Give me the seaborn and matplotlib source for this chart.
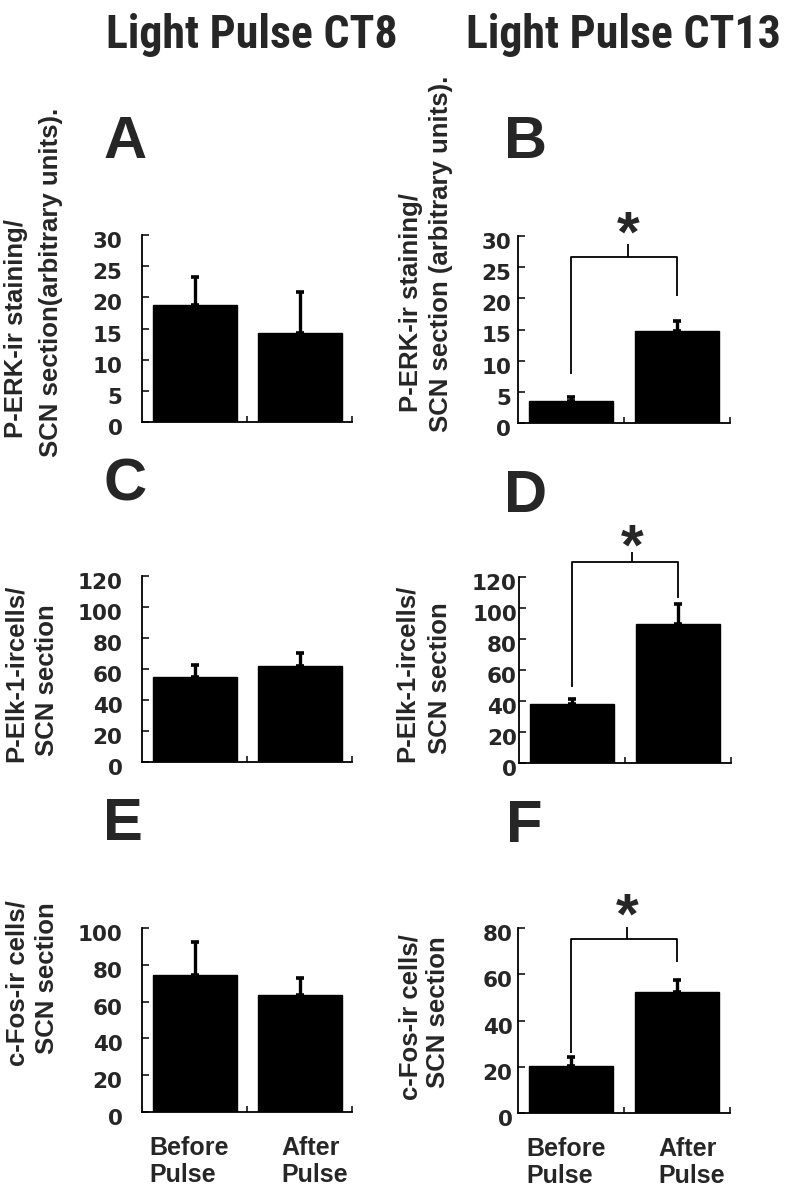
import numpy as np
import matplotlib
matplotlib.use("Agg")
import matplotlib.pyplot as plt
import matplotlib.transforms as mtransforms
from matplotlib import font_manager
import seaborn as sns

# --- data ---
categories = ["Before\nPulse", "After\nPulse"]

perk_ct8 = [18.8, 14.3]
perk_ct8_sem = [4.5, 6.6]
perk_ct13 = [3.6, 14.8]
perk_ct13_sem = [0.6, 1.6]

pelk_ct8 = [54.6, 61.9]
pelk_ct8_sem = [7.9, 8.6]
pelk_ct13 = [37.9, 89.9]
pelk_ct13_sem = [3.6, 12.9]

cfos_ct8 = [74.6, 63.7]
cfos_ct8_sem = [17.6, 9.0]
cfos_ct13 = [20.3, 52.5]
cfos_ct13_sem = [3.8, 5.0]

# significance brackets (data units): top, left leg end, right leg end, stem top, star
bracket_b = [26.6, 7.9, 20.3, 28.7, 32.9]
bracket_d = [129.7, 49.0, 106.7, 136.0, 150.0]
bracket_f = [75.1, 25.8, 65.4, 80.3, 92.1]

# --- fonts ---
def have_font(name):
    try:
        path = font_manager.findfont(font_manager.FontProperties(family=name),
                                     fallback_to_default=False)
        return "Condensed" in path or "Narrow" in path
    except Exception:
        return False

# titles use a condensed face when one is installed
if have_font("Roboto Condensed"):
    NARROW, TITLE_SIZE = "Roboto Condensed", 33
elif have_font("Liberation Sans Narrow"):
    NARROW, TITLE_SIZE = "Liberation Sans Narrow", 33
else:
    NARROW, TITLE_SIZE = "Liberation Sans", 27.5
SANS = "Liberation Sans"
DIGITS = "DejaVu Sans"

sns.set_style("ticks")
plt.rcParams["font.family"] = [SANS, "DejaVu Sans"]

W, H = 785, 1199
fig = plt.figure(figsize=(W / 100, H / 100), dpi=100)


def px_axes(x0, y0, x1, y1):
    return fig.add_axes([x0 / W, 1 - y1 / H, (x1 - x0) / W, (y1 - y0) / H])


def ftext(s, x, y, **kw):
    fig.text(x / W, 1 - y / H, s, **kw)


def panel(ax, vals, sem, ymax, step, pad, xlabels=False):
    sns.barplot(x=categories, y=vals, color="black", saturation=1, width=0.8,
                errorbar=None, edgecolor="black", ax=ax)
    ax.errorbar(range(len(vals)), vals, yerr=[np.zeros(len(vals)), sem],
                fmt="none", ecolor="black", elinewidth=2.4, capsize=2.6, capthick=2.6)
    ax.set_xlim(-0.5, len(vals) - 0.5)
    ax.set_ylim(0, ymax)
    ticks = np.arange(0, ymax + 0.1, step)
    ax.set_yticks(ticks)
    ax.set_yticklabels([f"{int(v)}" for v in ticks],
                       family=DIGITS, fontweight="bold", fontsize=15.5)
    ax.set_xlabel("")
    ax.set_ylabel("")
    sns.despine(ax=ax)
    for s in ("left", "bottom"):
        ax.spines[s].set_linewidth(1.3)
        ax.spines[s].set_color("black")
    ax.tick_params(axis="y", direction="in", length=5, width=1.3, pad=pad)
    ax.tick_params(axis="x", which="major", length=0, pad=17)
    ax.set_xticks([0.5, 1.5], minor=True)
    ax.tick_params(axis="x", which="minor", direction="in", length=4, width=1.3)
    if xlabels:
        ax.set_xticks(range(len(categories)))
        ax.set_xticklabels(categories, family=SANS, fontweight="bold",
                           fontsize=18, linespacing=1.2, multialignment="left")
        # labels sit a little off the bar centres in the original
        for lab, dx in zip(ax.get_xticklabels(), [-5, 15]):
            nudge = mtransforms.ScaledTranslation(dx / 100, 0, fig.dpi_scale_trans)
            lab.set_transform(lab.get_transform() + nudge)
    else:
        ax.tick_params(axis="x", labelbottom=False)
    shift = mtransforms.ScaledTranslation(0, -5 / 100, fig.dpi_scale_trans)
    for lab in ax.get_yticklabels():
        lab.set_transform(lab.get_transform() + shift)


def bracket(ax, b, xc):
    top, left_end, right_end, stem, star = b
    kw = dict(color="black", lw=1.3, clip_on=False, solid_capstyle="butt")
    ax.plot([0, 0, 1, 1], [left_end, top, top, right_end], **kw)
    ax.plot([xc, xc], [top, stem], **kw)
    off = mtransforms.ScaledTranslation(0, -0.19, fig.dpi_scale_trans)
    ax.text(xc, star, "*", ha="center", va="center", fontsize=42,
            fontweight="bold", family=SANS, clip_on=False,
            transform=ax.transData + off)


axA = px_axes(142, 235, 352, 422)
axB = px_axes(518, 236, 730, 423)
axC = px_axes(142, 576, 352, 762)
axD = px_axes(519, 577, 731, 763)
axE = px_axes(142, 928, 352, 1112)
axF = px_axes(518, 928, 730, 1113)

panel(axA, perk_ct8, perk_ct8_sem, 30, 5, 14)
panel(axB, perk_ct13, perk_ct13_sem, 30, 5, 5)
panel(axC, pelk_ct8, pelk_ct8_sem, 120, 20, 14)
panel(axD, pelk_ct13, pelk_ct13_sem, 120, 20, 1.5)
panel(axE, cfos_ct8, cfos_ct8_sem, 100, 20, 14, xlabels=True)
panel(axF, cfos_ct13, cfos_ct13_sem, 80, 20, 4, xlabels=True)

bracket(axB, bracket_b, 0.54)
bracket(axD, bracket_d, 0.57)
bracket(axF, bracket_f, 0.53)

# column titles
ttl = dict(ha="center", va="baseline", fontsize=TITLE_SIZE, fontweight="bold", family=NARROW)
ftext("Light Pulse CT8", 252, 48, **ttl)
ftext("Light Pulse CT13", 623, 48, **ttl)

# panel letters
let = dict(ha="center", va="center", fontsize=43, fontweight="bold", family=SANS)
for s, x, y in [("A", 125, 143), ("B", 526, 143), ("C", 125, 485),
                ("D", 526, 497), ("E", 123, 825), ("F", 524, 827)]:
    ftext(s, x, y, **let)

# y axis labels, one text per line
yl = dict(ha="center", va="center", rotation=90, fontsize=18.5,
          fontweight="bold", family=SANS)
for s, x, y in [("P-ERK-ir staining/", 16, 329), ("SCN section(arbitrary units).", 51, 282),
                ("P-ERK-ir staining/", 411, 303), ("SCN section (arbitrary units).", 441, 254),
                ("P-Elk-1-ircells/", 16, 673), ("SCN section", 47, 680),
                ("P-Elk-1-ircells/", 407, 673), ("SCN section", 440, 678),
                ("c-Fos-ir cells/", 18, 983), ("SCN section", 47, 978),
                ("c-Fos-ir cells/", 410, 1017), ("SCN section", 438, 1012)]:
    ftext(s, x, y, **yl)

fig.savefig("out.png", dpi=100, facecolor="white")
